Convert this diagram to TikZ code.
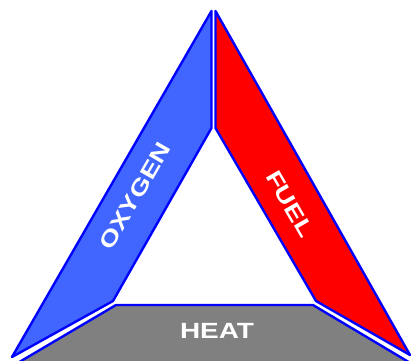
\documentclass[tikz,border=0pt]{standalone}
\usepackage{fontspec}
\setmainfont{Liberation Sans}
\definecolor{oxy}{RGB}{64,102,255}
\definecolor{fuelred}{RGB}{255,0,0}
\definecolor{heatgray}{RGB}{128,128,128}
\definecolor{edgeblue}{RGB}{0,0,255}
\newcommand{\wide}[1]{\scalebox{1.27}[1]{#1}}
\tikzset{
  side/.style={draw=edgeblue, line width=2.4pt, line join=round},
  lbl/.style={text=white, font=\bfseries\fontsize{22}{22}\selectfont, inner sep=0pt}
}
\begin{document}
\begin{tikzpicture}[x=1pt,y=-1pt]
\useasboundingbox (0,0) rectangle (413,360);
% gray base
\filldraw[side, fill=heatgray] (116,305) -- (313,305) -- (412,364) -- (16,364) -- cycle;
% blue side
\filldraw[side, fill=oxy] (211.5,11) -- (211.5,128) -- (113,301) -- (12,357) -- cycle;
% red side
\filldraw[side, fill=fuelred] (215.5,11) -- (410,355) -- (316,301) -- (215.5,128) -- cycle;
% labels
\node[lbl, rotate=60] (oxygen) at (135,196) {\wide{OXYGEN}};
\node[lbl, rotate=-60] (fuel) at (290,204) {\wide{FUEL}};
\node[lbl] (heat) at (217,331) {\wide{HEAT}};
\end{tikzpicture}
\end{document}
